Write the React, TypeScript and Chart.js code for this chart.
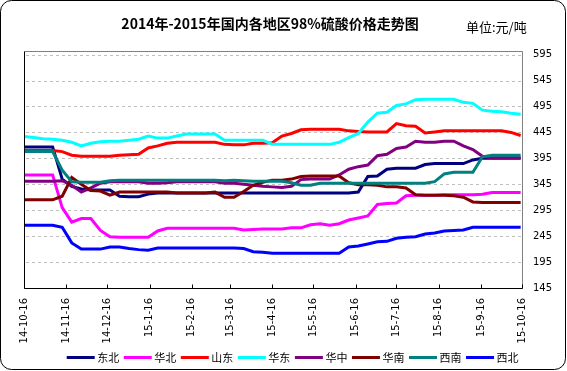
import React, { useEffect, useRef } from "react";
import { Chart, registerables } from "chart.js";

Chart.register(...registerables);

// ---- data ----
const titleText = "2014年-2015年国内各地区98%硫酸价格走势图";
const unitText = "单位:元/吨";

const seriesNames = ["东北", "华北", "山东", "华东", "华中", "华南", "西南", "西北"];
const seriesColors = ["#000080", "#FF00FF", "#FF0000", "#00FFFF", "#800080", "#800000", "#008080", "#0000FF"];

// x: days since 2014-10-16 (weekly samples)
const weekDays = [
  0, 7, 14, 21, 28, 35, 42, 49, 56, 63, 70, 77, 84, 91, 98, 105, 112, 119, 126, 133,
  140, 147, 154, 161, 168, 175, 182, 189, 196, 203, 210, 217, 224, 231, 238, 245, 252,
  259, 266, 273, 280, 287, 294, 301, 308, 315, 322, 329, 336, 343, 350, 357, 364,
];

const tickDays = [0, 31, 61, 92, 123, 151, 182, 212, 243, 273, 304, 335, 365];
const tickLabels = [
  "14-10-16", "14-11-16", "14-12-16", "15-1-16", "15-2-16", "15-3-16", "15-4-16",
  "15-5-16", "15-6-16", "15-7-16", "15-8-16", "15-9-16", "15-10-16",
];
const yTicks = [145, 195, 245, 295, 345, 395, 445, 495, 545, 595];

const dongbei = [
  417, 417, 417, 417, 355, 341, 336, 334, 334, 334, 322, 321, 321, 326, 328, 328, 328, 328,
  328, 328, 328, 328, 328, 328, 328, 328, 328, 328, 328, 328, 328, 328, 328, 328, 328, 330,
  360, 361, 374, 376, 376, 376, 383, 385, 385, 385, 385, 392, 395, 395, 395, 395, 395,
];
const huabei = [
  363, 363, 363, 363, 300, 272, 279, 279, 256, 244, 243, 243, 243, 243, 255, 260, 260, 260,
  260, 260, 260, 260, 260, 257, 258, 259, 259, 259, 261, 261, 267, 269, 266, 269, 276, 280,
  284, 306, 308, 309, 323, 324, 324, 324, 325, 325, 325, 325, 326, 329, 329, 329, 329,
];
const shandong = [
  410, 410, 410, 410, 408, 401, 399, 399, 399, 399, 401, 402, 403, 415, 419, 424, 426, 426,
  426, 426, 426, 422, 421, 421, 424, 424, 425, 438, 443, 450, 451, 451, 451, 451, 448, 447,
  446, 446, 446, 462, 458, 457, 444, 446, 448, 448, 448, 448, 448, 448, 448, 445, 439,
];
const huadong = [
  437, 435, 433, 432, 430, 426, 419, 424, 427, 428, 428, 430, 432, 438, 434, 434, 438, 442,
  442, 442, 442, 430, 430, 430, 430, 430, 422, 422, 422, 422, 422, 422, 422, 426, 435, 443,
  465, 482, 484, 497, 500, 508, 509, 509, 509, 509, 503, 501, 488, 486, 485, 482, 480,
];
const huazhong = [
  351, 351, 351, 351, 352, 343, 330, 338, 347, 350, 350, 350, 350, 347, 347, 348, 350, 350,
  350, 350, 350, 347, 347, 345, 343, 341, 340, 339, 341, 354, 355, 355, 355, 363, 374, 379,
  382, 400, 403, 414, 417, 428, 426, 426, 428, 428, 419, 412, 399, 396, 396, 396, 396,
];
const huanan = [
  315, 315, 315, 315, 322, 358, 345, 333, 332, 324, 330, 330, 330, 330, 330, 330, 328, 328,
  328, 328, 330, 320, 320, 331, 343, 349, 353, 353, 355, 360, 361, 361, 361, 361, 348, 344,
  344, 343, 340, 340, 338, 325, 324, 324, 324, 323, 320, 311, 310, 310, 310, 310, 310,
];
const xinan = [
  408, 408, 408, 408, 372, 350, 349, 349, 349, 352, 353, 353, 353, 353, 353, 353, 353, 353,
  353, 353, 353, 352, 353, 352, 351, 351, 351, 351, 348, 343, 343, 347, 347, 347, 347, 347,
  347, 347, 347, 347, 347, 347, 347, 350, 365, 368, 368, 368, 398, 401, 401, 401, 401,
];
const xibei = [
  266, 266, 266, 266, 262, 232, 220, 220, 220, 224, 224, 221, 219, 218, 222, 222, 222, 222,
  222, 222, 222, 222, 222, 221, 215, 214, 212, 212, 212, 212, 212, 212, 212, 212, 224, 226,
  230, 234, 235, 241, 243, 244, 249, 251, 255, 256, 257, 262, 262, 262, 262, 262, 262,
];

const seriesValues = [dongbei, huabei, shandong, huadong, huazhong, huanan, xinan, xibei];

// ---- dashed horizontal grid lines, drawn from the y scale ----
const gridPlugin = {
  id: "dashedGrid",
  beforeDatasetsDraw(chart: any) {
    const { ctx, chartArea: a, scales } = chart;
    const ys = scales.y;
    ctx.save();
    ctx.strokeStyle = "#C0C0C0";
    ctx.lineWidth = 1;
    ctx.setLineDash([3, 3]);
    ctx.beginPath();
    yTicks.forEach((v) => {
      if (v === ys.min) return;
      const py = Math.round(ys.getPixelForValue(v)) + 0.5;
      ctx.moveTo(a.left + 2, py);
      ctx.lineTo(a.right, py);
    });
    ctx.stroke();
    ctx.restore();
  },
};

// ---- decoration plugin (title, unit, frame, legend, outer border) ----
const decorPlugin = {
  id: "decor",
  afterDraw(chart: any) {
    const { ctx, chartArea: a, scales } = chart;
    const xs = scales.x;
    ctx.save();
    const L = Math.round(a.left) + 0.5;
    const R = Math.round(a.right) + 0.5;
    const T = Math.round(a.top) + 0.5;
    const B = Math.round(a.bottom) + 0.5;
    ctx.lineWidth = 1;
    ctx.setLineDash([]);
    ctx.strokeStyle = "#808080";
    ctx.beginPath();
    ctx.moveTo(L, T);
    ctx.lineTo(R, T);
    ctx.lineTo(R, B);
    ctx.stroke();
    ctx.strokeStyle = "#000000";
    ctx.beginPath();
    ctx.moveTo(L, T);
    ctx.lineTo(L, B);
    ctx.lineTo(R, B);
    ctx.stroke();
    ctx.beginPath();
    tickDays.forEach((d) => {
      const px = Math.round(xs.getPixelForValue(d)) + 0.5;
      ctx.moveTo(px, B);
      ctx.lineTo(px, B - 4);
    });
    ctx.stroke();

    // outer rounded border
    ctx.beginPath();
    ctx.roundRect(0.5, 0.5, 565, 369, 11);
    ctx.stroke();

    // title + unit
    ctx.fillStyle = "#000000";
    ctx.textBaseline = "middle";
    ctx.textAlign = "center";
    ctx.font = 'bold 14px "Noto Sans CJK SC"';
    ctx.fillText(titleText, 270, 24);
    ctx.textAlign = "left";
    ctx.font = '13px "Noto Sans CJK SC"';
    ctx.fillText(unitText, 466, 27);

    // legend
    const lx0 = 66.7;
    const step = 57.05;
    const ly = 357.5;
    ctx.font = '11px "Noto Sans CJK SC"';
    seriesNames.forEach((n, i) => {
      const x = lx0 + step * i;
      ctx.strokeStyle = seriesColors[i];
      ctx.lineWidth = 3;
      ctx.beginPath();
      ctx.moveTo(x, ly);
      ctx.lineTo(x + 28, ly);
      ctx.stroke();
      ctx.fillStyle = "#000000";
      ctx.fillText(n, x + 30.5, ly);
    });
    ctx.restore();
  },
};

export default function App() {
  const canvasRef = useRef<HTMLCanvasElement | null>(null);

  useEffect(() => {
    document.body.style.margin = "0";
    const canvas = canvasRef.current;
    if (!canvas) return;
    const chart = new Chart(canvas, {
      type: "line",
      data: {
        datasets: seriesNames.map((name, i) => ({
          label: name,
          data: weekDays.map((d, j) => ({ x: d, y: seriesValues[i][j] })),
          borderColor: seriesColors[i],
          backgroundColor: seriesColors[i],
          borderWidth: 3,
          pointRadius: 0,
          tension: 0,
          fill: false,
          order: seriesNames.length - i,
        })),
      },
      options: {
        responsive: false,
        animation: false,
        devicePixelRatio: 1,
        layout: { padding: { top: 51, left: 24, right: 0, bottom: 0 } },
        plugins: {
          legend: { display: false },
          title: { display: false },
          tooltip: { enabled: false },
        },
        scales: {
          x: {
            type: "linear",
            min: 0,
            max: 365,
            afterBuildTicks: (s: any) => {
              s.ticks = tickDays.map((v) => ({ value: v }));
            },
            afterFit: (s: any) => {
              s.height = 83;
            },
            grid: { display: false, drawTicks: false },
            border: { display: false },
            ticks: {
              autoSkip: false,
              minRotation: 90,
              maxRotation: 90,
              padding: 10,
              color: "#000000",
              font: { family: "DejaVu Sans", size: 10 },
              callback: (v: any) => {
                const k = tickDays.indexOf(Number(v));
                return k >= 0 ? tickLabels[k] : "";
              },
            },
          },
          y: {
            type: "linear",
            position: "right",
            min: 145,
            max: 602,
            afterBuildTicks: (s: any) => {
              s.ticks = yTicks.map((v) => ({ value: v }));
            },
            afterFit: (s: any) => {
              s.width = 45;
            },
            grid: { display: false, drawTicks: false },
            border: { display: false },
            ticks: {
              padding: 11,
              color: "#000000",
              font: { family: "DejaVu Sans", size: 10 },
            },
          },
        },
      },
      plugins: [gridPlugin, decorPlugin],
    });
    return () => chart.destroy();
  }, []);

  return (
    <div style={{ position: "absolute", left: 0, top: 0, width: 567, height: 371 }}>
      <canvas ref={canvasRef} width={567} height={371} style={{ display: "block" }} />
    </div>
  );
}
